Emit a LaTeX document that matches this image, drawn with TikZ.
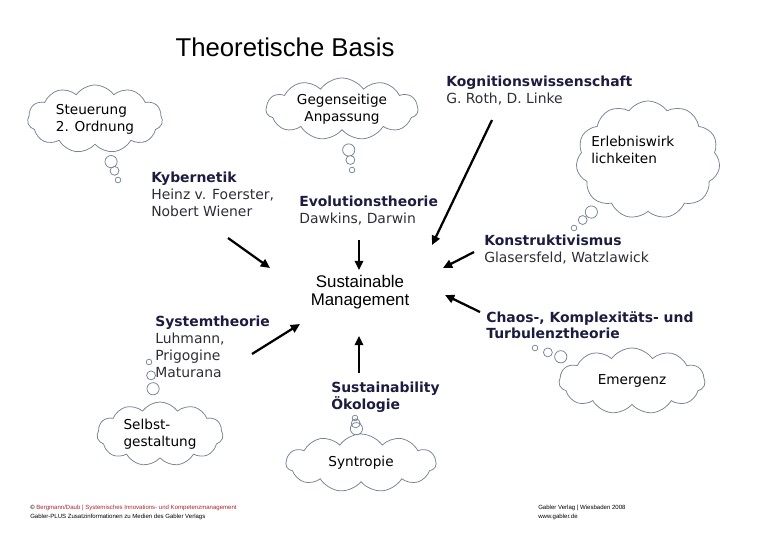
\documentclass[tikz,border=0pt]{standalone}
\usepackage{fontspec}
\setmainfont{DejaVu Sans}
\newfontfamily\arialfont{Liberation Sans}
\usepackage{tikz}
\usetikzlibrary{arrows.meta, calc, shapes.callouts, shapes.symbols}
\definecolor{cloudline}{RGB}{120,132,150}
\definecolor{headblue}{RGB}{28,28,64}
\definecolor{namegray}{RGB}{45,45,55}
\definecolor{footred}{RGB}{170,35,45}
\tikzstyle{thought} = [cloud callout, draw=cloudline, line width=0.55pt, cloud puffs=11,
                       cloud puff arc=110, cloud ignores aspect, callout pointer segments=3,
                       callout pointer start size=12pt and 11pt, callout pointer end size=4pt and 4pt,
                       inner sep=0pt, align=left, font=\fontsize{9.7}{12}\selectfont]
\tikzstyle{school} = [inner sep=0pt, anchor=north west, align=left, text=namegray,
                       font=\fontsize{9.9}{12}\selectfont]
\tikzstyle{foot}   = [inner sep=0pt, anchor=north west, align=left,
                       font=\arialfont\fontsize{4.3}{5}\selectfont]
\tikzstyle{arr}    = [-{Triangle[length=2.3mm, width=2.1mm]}, line width=1.6pt]
\newcommand{\head}[1]{\textcolor{headblue}{\textbf{#1}}}

\begin{document}
\begin{tikzpicture}[x=0.025cm, y=-0.025cm]
    \useasboundingbox (0,0) rectangle (780,540);
    \node[font=\arialfont\fontsize{18.3}{20}\selectfont] (title) at (285,47) {Theoretische Basis};

    % centre
    \node[font=\arialfont\fontsize{12}{13}\selectfont, align=center] (sm) at (360,292)
         {Sustainable\\Management};

    % schools of thought
    \node[school] (kog) at (446,76) {\head{Kognitionswissenschaft}\\G. Roth, D. Linke};
    \node[school] (kyb) at (151,172) {\head{Kybernetik}\\Heinz v. Foerster,\\Nobert Wiener};
    \node[school] (evo) at (299,196) {\head{Evolutionstheorie}\\Dawkins, Darwin};
    \node[school] (kon) at (484,235) {\head{Konstruktivismus}\\Glasersfeld, Watzlawick};
    \node[school] (chaos) at (486,311) {\head{Chaos-, Komplexitäts- und}\\\head{Turbulenztheorie}};
    \node[school] (sys) at (155,316) {\head{Systemtheorie}\\Luhmann,\\Prigogine\\Maturana};
    \node[school] (sust) at (331,382) {\head{Sustainability}\\\head{Ökologie}};

    % thought clouds
    \node[thought, minimum width=3.375cm, minimum height=1.7cm,
          callout absolute pointer={(118,180)}] (steuer) at (95,119) {Steuerung\\2. Ordnung};
    \node[thought, align=center, minimum width=3.8cm, minimum height=1.55cm,
          callout absolute pointer={(352,170)}] (anpass) at (342,109) {Gegenseitige\\Anpassung};
    \node[thought, minimum width=3.6cm, minimum height=2.95cm,
          callout absolute pointer={(574,228)}] (erleb) at (648,160) {};
    \node[school, text=black, font=\fontsize{9.7}{12}\selectfont] (erleb-text) at (591,136)
         {Erlebniswirk\\lichkeiten};
    \node[thought, minimum width=3.65cm, minimum height=1.65cm,
          callout absolute pointer={(535,348)}] (emerg) at (632,381) {Emergenz};
    \node[thought, minimum width=3.15cm, minimum height=1.6cm,
          callout absolute pointer={(149,362)}] (selbst) at (160,434) {Selbst-\\gestaltung};
    \node[thought, minimum width=3.75cm, minimum height=1.45cm,
          callout absolute pointer={(355,418)}] (syntr) at (361,463) {Syntropie};

    % arrows into the centre
    \draw[arr] ($(kyb.north west)+(77,66)$) -- ($(sm)+(-90,-24)$);
    \draw[arr] ($(evo.north west)+(60,44)$) -- ($(sm)+(-1,-22)$);
    \draw[arr] ($(kog.north west)+(46,44)$) -- ($(sm)+(72,-47)$);
    \draw[arr] ($(kon.north west)+(-10,17)$) -- ($(sm)+(83,-24)$);
    \draw[arr] ($(chaos.north west)+(-6,1)$) -- ($(sm)+(85,3)$);
    \draw[arr] ($(sys.north west)+(97,38)$) -- ($(sm)+(-60,32)$);
    \draw[arr] ($(sust.north west)+(28,-9)$) -- ($(sm)+(-1,44)$);

    % footer
    \node[foot] (foot-l) at (30,505) {© \textcolor{footred}{Bergmann/Daub | Systemisches Innovations- und Kompetenzmanagement}\\[1.5pt]
         Gabler-PLUS Zusatzinformationen zu Medien des Gabler Verlags};
    \node[foot] (foot-r) at (538,505) {Gabler Verlag | Wiesbaden 2008\\[1.5pt]www.gabler.de};
\end{tikzpicture}
\end{document}
